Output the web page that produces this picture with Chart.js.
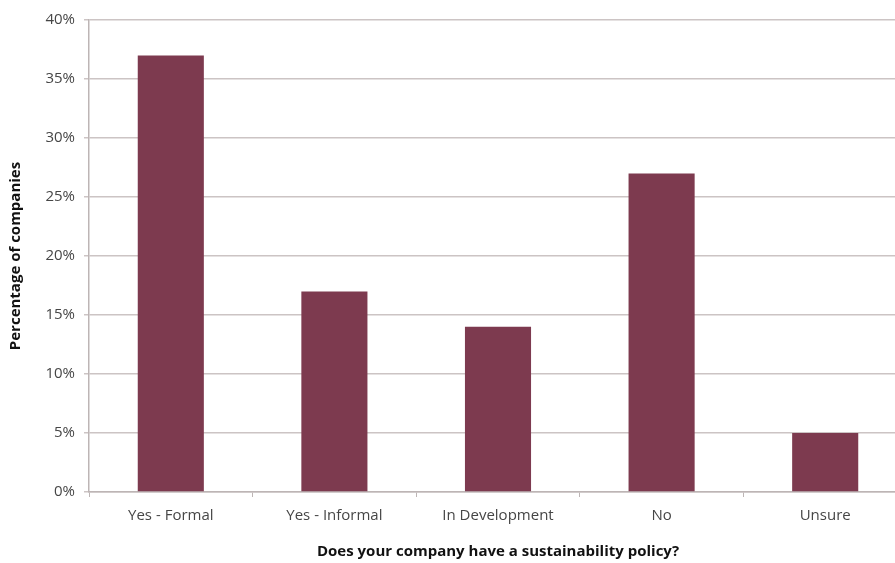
<!DOCTYPE html>
<html>
<head>
<meta charset="utf-8">
<script src="https://cdn.jsdelivr.net/npm/chart.js@4/dist/chart.umd.min.js"></script>
<style>
html,body{margin:0;padding:0;background:#fff;overflow:hidden;}
#wrap{position:relative;width:895px;height:563px;overflow:hidden;}
</style>
</head>
<body>
<div id="wrap"><canvas id="c" width="907" height="563"></canvas></div>
<script>
const categories = ["Yes - Formal", "Yes - Informal", "In Development", "No", "Unsure"];
const values = [37, 17, 14, 27, 5];
const yTicks = [0, 5, 10, 15, 20, 25, 30, 35, 40];

const FONT = "'Open Sans', Lato, sans-serif";

new Chart(document.getElementById('c'), {
  type: 'bar',
  data: {
    labels: categories,
    datasets: [{
      data: values,
      backgroundColor: '#7d3a4f',
      borderWidth: 0,
      barPercentage: 0.404,
      categoryPercentage: 1
    }]
  },
  options: {
    responsive: false,
    animation: false,
    layout: { padding: { top: 20, right: 0, bottom: 0, left: 0 } },
    plugins: {
      legend: { display: false },
      tooltip: { enabled: false }
    },
    scales: {
      x: {
        grid: { drawOnChartArea: false, offset: true, tickLength: 5, color: '#bdb5b5', lineWidth: 1 },
        border: { color: '#bdb5b5', width: 1.5 },
        ticks: { color: '#464646', font: { family: FONT, size: 15 }, padding: 10, maxRotation: 0 },
        title: {
          display: true,
          text: 'Does your company have a sustainability policy?',
          color: '#111',
          font: { family: FONT, size: 15, weight: 'bold' },
          padding: { top: 0, bottom: 2 }
        },
        afterFit: (s) => { s.height = 71; }
      },
      y: {
        min: 0, max: 40,
        afterBuildTicks: (s) => { s.ticks = yTicks.map(v => ({ value: v })); },
        grid: { color: '#ccc4c4', lineWidth: 1.5, tickLength: 5 },
        border: { color: '#bdb5b5', width: 1.5 },
        ticks: { color: '#464646', font: { family: FONT, size: 15 }, padding: 9, callback: (v) => v + '%' },
        title: {
          display: true,
          text: 'Percentage of companies',
          color: '#111',
          font: { family: FONT, size: 15, weight: 'bold' },
          padding: { top: 7, bottom: 0 }
        },
        afterFit: (s) => { s.width = 89; }
      }
    }
  }
});
</script>
</body>
</html>
